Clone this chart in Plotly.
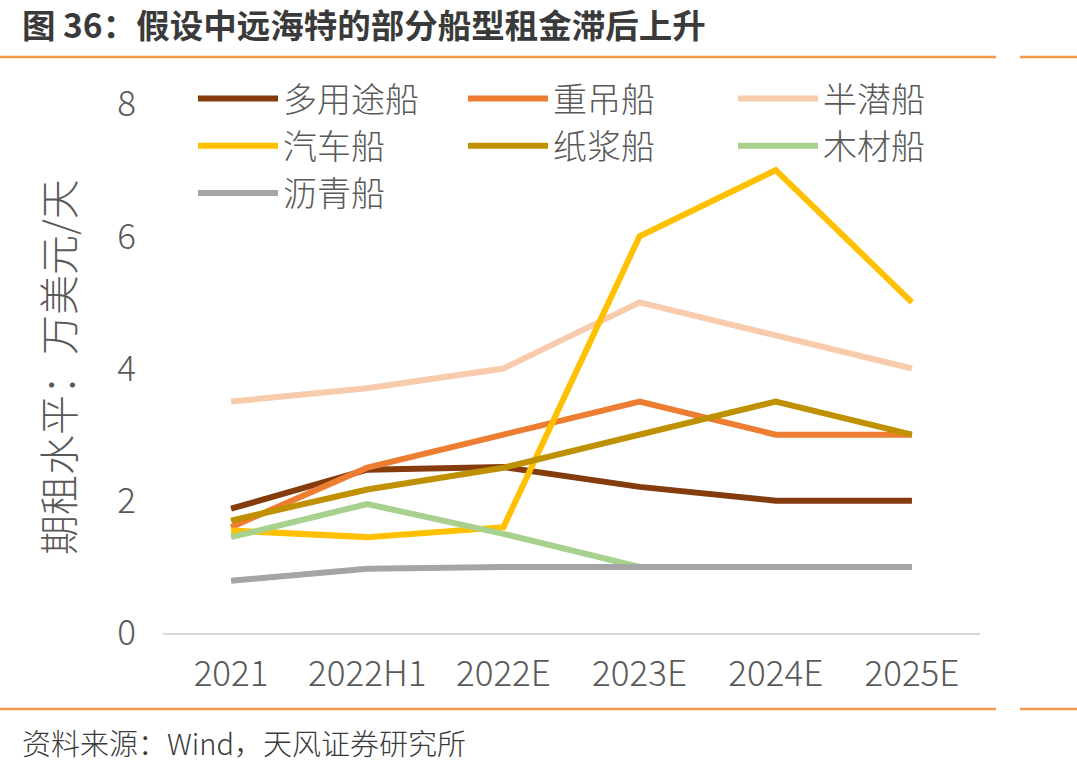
import plotly.graph_objects as go

categories = ["2021", "2022H1", "2022E", "2023E", "2024E", "2025E"]
series_names = ["多用途船", "重吊船", "半潜船", "汽车船", "纸浆船", "木材船", "沥青船"]
multi_purpose = [1.88, 2.47, 2.51, 2.21, 2.0, 2.0]
heavy_lift = [1.6, 2.5, 3.0, 3.5, 3.0, 3.0]
semi_sub = [3.5, 3.7, 4.0, 5.0, 4.5, 4.0]
car_carrier = [1.55, 1.45, 1.6, 6.0, 7.0, 5.0]
pulp = [1.7, 2.17, 2.5, 3.0, 3.5, 3.0]
timber = [1.45, 1.95, 1.5, 1.0, 1.0, 1.0]
asphalt = [0.79, 0.97, 1.0, 1.0, 1.0, 1.0]
y_ticks = [0, 2, 4, 6, 8]

values = [multi_purpose, heavy_lift, semi_sub, car_carrier, pulp, timber, asphalt]
colors = ["#843C0C", "#ED7D31", "#F8CBAD", "#FFC000", "#BF9000", "#A9D18E", "#A5A5A5"]

W, H = 1077, 772
L, R, T, B = 163, 97, 104, 139
pw, ph = W - L - R, H - T - B

fig = go.Figure()
for name, vals, c in zip(series_names, values, colors):
    fig.add_trace(go.Scatter(x=categories, y=vals, name=name, mode="lines",
                             line=dict(color=c, width=6), cliponaxis=False))

font_cjk = "Noto Sans CJK SC"
gray = "#595959"


def px_x(x):
    return (x - L) / pw


def px_y(y):
    return (T + ph - y) / ph


fig.update_layout(
    width=W, height=H,
    margin=dict(l=L, r=R, t=T, b=B),
    paper_bgcolor="white", plot_bgcolor="white",
    font=dict(family=font_cjk, color=gray),
    xaxis=dict(type="category", range=[-0.5, 5.5], showgrid=False,
               showline=True, linecolor="#D9D9D9", linewidth=2,
               ticks="", tickfont=dict(size=35, color=gray, family=font_cjk, weight=300),
               ticklabelstandoff=9),
    yaxis=dict(range=[0, 8], tickvals=y_ticks, showgrid=False, zeroline=False,
               showline=False, ticks="", tickfont=dict(size=35, color=gray, family=font_cjk, weight=300),
               ticklabelstandoff=26),
    showlegend=True,
    legend=dict(orientation="h", x=px_x(193), y=px_y(70),
                xanchor="left", yanchor="top", entrywidth=175, entrywidthmode="pixels",
                itemwidth=80, font=dict(size=34, color=gray, family=font_cjk, weight=300),
                bgcolor="rgba(0,0,0,0)", tracegroupgap=0, traceorder="normal"),
)

# y-axis title
fig.add_annotation(text="期租水平：万美元/天", xref="paper", yref="paper",
                   x=px_x(57), y=px_y(367), textangle=-90,
                   showarrow=False, font=dict(size=40, color=gray, family=font_cjk, weight=300),
                   xanchor="center", yanchor="middle")

# title
fig.add_annotation(text="<b>图 36：假设中远海特的部分船型租金滞后上升</b>", xref="paper", yref="paper",
                   x=px_x(20), y=px_y(23), showarrow=False,
                   xanchor="left", yanchor="middle",
                   font=dict(size=33.5, color="#3A3A3A", family=font_cjk))
# footer
fig.add_annotation(text="资料来源：Wind，天风证券研究所", xref="paper", yref="paper",
                   x=px_x(20), y=px_y(742), showarrow=False,
                   xanchor="left", yanchor="middle",
                   font=dict(size=29, color="#3A3A3A", family=font_cjk, weight=300))

for yy in (57, 709):
    for x0, x1 in ((0, 996), (1020, 1077)):
        fig.add_shape(type="line", xref="paper", yref="paper",
                      x0=px_x(x0), x1=px_x(x1), y0=px_y(yy), y1=px_y(yy),
                      line=dict(color="#F39A4A", width=2.5))

fig.write_html("out.html")
